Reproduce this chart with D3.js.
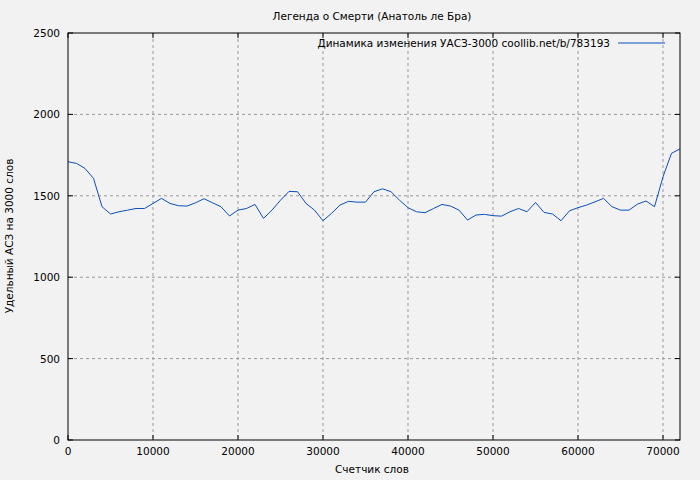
<!DOCTYPE html><html><head><meta charset="utf-8"><script src="https://cdn.jsdelivr.net/npm/d3@7"></script>
<style>body{margin:0;background:#f2f2f2}svg{font-family:"DejaVu Sans",sans-serif;font-size:10.5px}</style></head><body><svg id="c" width="700" height="480"></svg><script>
const xs=d3.range(0,73000,1000);
const vals=[1709,1699,1668,1607,1433,1388,1402,1412,1422,1422,1453,1484,1453,1439,1437,1457,1482,1457,1433,1376,1412,1422,1447,1361,1412,1473,1527,1525,1453,1412,1347,1392,1443,1466,1461,1461,1525,1543,1525,1473,1427,1402,1396,1422,1447,1437,1412,1351,1382,1386,1378,1375,1402,1422,1402,1459,1398,1388,1347,1408,1427,1443,1463,1484,1433,1412,1412,1449,1468,1433,1617,1761,1788];
const xTicks=[0,10000,20000,30000,40000,50000,60000,70000];
const yTicks=[0,500,1000,1500,2000,2500];
const title="Легенда о Смерти (Анатоль ле Бра)",legend="Динамика изменения УАСЗ-3000 coollib.net/b/783193",xLabel="Счетчик слов",yLabel="Удельный АСЗ на 3000 слов";
const svg=d3.select("#c");const L=68,R=680,T=33,B=440;
const x=d3.scaleLinear().domain([0,72000]).range([L,R]);
const y=d3.scaleLinear().domain([0,2500]).range([B,T]);
svg.append("rect").attr("width",700).attr("height",480).attr("fill","#f2f2f2");
const g=svg.append("g");
xTicks.forEach(t=>{if(t>0)g.append("line").attr("x1",x(t)).attr("x2",x(t)).attr("y1",T).attr("y2",B).attr("stroke","#999").attr("stroke-dasharray","3,3");
 g.append("line").attr("x1",x(t)).attr("x2",x(t)).attr("y1",B).attr("y2",B-5).attr("stroke","#000");
 g.append("line").attr("x1",x(t)).attr("x2",x(t)).attr("y1",T).attr("y2",T+5).attr("stroke","#000");
 g.append("text").attr("x",x(t)).attr("y",B+15).attr("text-anchor","middle").text(t);});
yTicks.forEach(t=>{if(t>0&&t<2500)g.append("line").attr("x1",L).attr("x2",R).attr("y1",y(t)).attr("y2",y(t)).attr("stroke","#999").attr("stroke-dasharray","3,3");
 g.append("line").attr("x1",L).attr("x2",L+5).attr("y1",y(t)).attr("y2",y(t)).attr("stroke","#000");
 g.append("line").attr("x1",R).attr("x2",R-5).attr("y1",y(t)).attr("y2",y(t)).attr("stroke","#000");
 g.append("text").attr("x",L-8).attr("y",y(t)+4).attr("text-anchor","end").text(t);});
g.append("path").datum(xs.map((d,i)=>[d,vals[i]])).attr("fill","none").attr("stroke","#0b4fbf").attr("stroke-width",1).attr("d",d3.line().x(d=>x(d[0])).y(d=>y(d[1])));
g.append("rect").attr("x",L).attr("y",T).attr("width",R-L).attr("height",B-T).attr("fill","none").attr("stroke","#000");
svg.append("text").attr("x",372).attr("y",20).attr("text-anchor","middle").text(title);
svg.append("text").attr("x",610).attr("y",47).attr("text-anchor","end").text(legend);
svg.append("line").attr("x1",618).attr("x2",665).attr("y1",43).attr("y2",43).attr("stroke","#0b4fbf");
svg.append("text").attr("x",372).attr("y",473).attr("text-anchor","middle").text(xLabel);
svg.append("text").attr("transform","translate(13,236) rotate(-90)").attr("text-anchor","middle").text(yLabel);
</script></body></html>
